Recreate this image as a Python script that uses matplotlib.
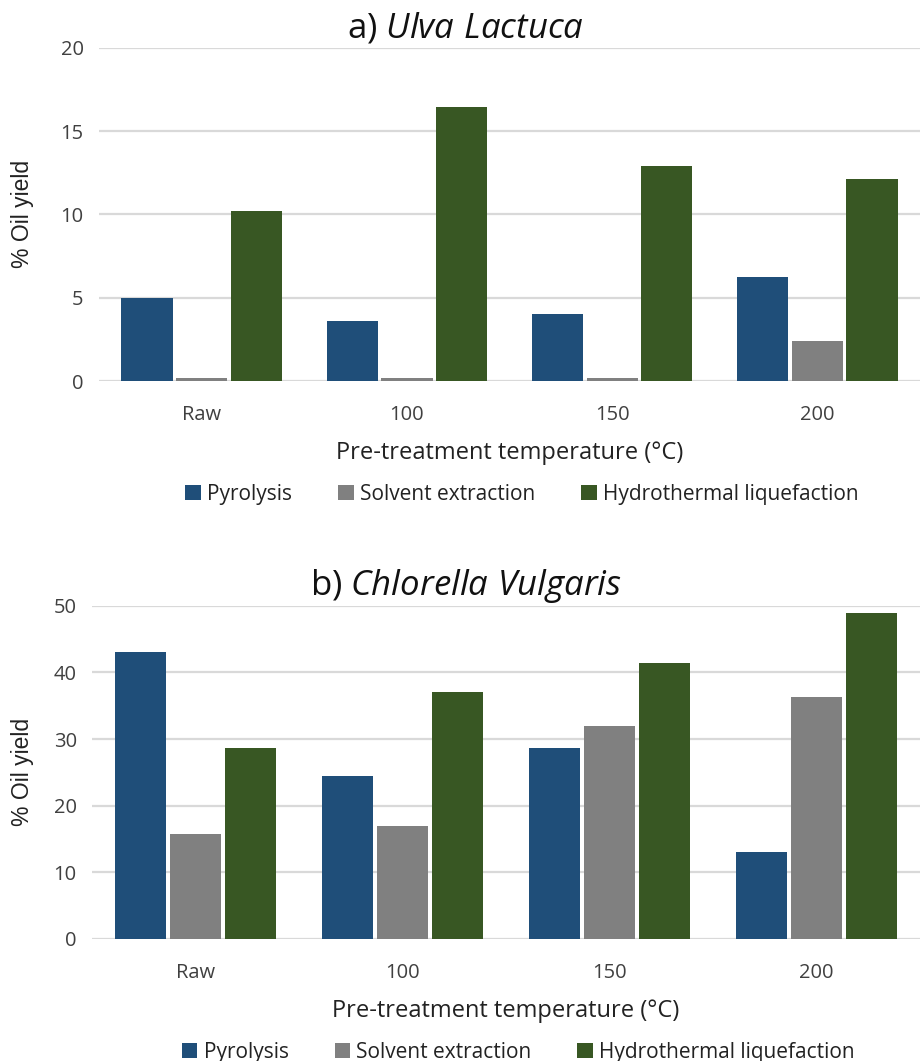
import matplotlib

matplotlib.use("Agg")
import matplotlib.pyplot as plt
import numpy as np

# pre-treatment groups and oil yields (%) per method
categories = ["Raw", "100", "150", "200"]
methods = ["Pyrolysis", "Solvent extraction", "Hydrothermal liquefaction"]

ulva_pyrolysis = [5.0, 3.6, 4.0, 6.25]
ulva_solvent = [0.2, 0.2, 0.2, 2.4]
ulva_htl = [10.2, 16.45, 12.9, 12.1]

chlorella_pyrolysis = [43.0, 24.4, 28.6, 13.0]
chlorella_solvent = [15.7, 16.9, 31.9, 36.3]
chlorella_htl = [28.7, 37.0, 41.4, 48.9]

COLORS = ["#1F4E79", "#808080", "#385723"]
GRID = "#D9D9D9"
BODY = "Open Sans"

plt.rcParams["font.family"] = [BODY, "DejaVu Sans"]
plt.rcParams["mathtext.fontset"] = "custom"
plt.rcParams["mathtext.rm"] = BODY
plt.rcParams["mathtext.it"] = BODY + ":italic"


def draw_panel(fig, rect, series, ymax, step, title):
    ax = fig.add_axes(rect)
    x = np.arange(len(categories))
    for i, (vals, name, col) in enumerate(zip(series, methods, COLORS)):
        ax.bar(x + (i - 1) * 0.266, vals, width=0.25, color=col,
               label=name, zorder=3)
    ax.set_xlim(-0.5, len(categories) - 0.5)
    ax.set_ylim(0, ymax)
    ax.set_yticks(np.arange(0, ymax + 1, step))
    ax.set_xticks(x)
    ax.set_xticklabels(categories)
    ax.tick_params(axis="both", length=0, labelsize=14.5, colors="#404040")
    ax.tick_params(axis="x", pad=17)
    ax.tick_params(axis="y", pad=11)
    ax.grid(axis="y", color=GRID, lw=1.6, zorder=0)
    for s in ax.spines.values():
        s.set_visible(False)
    ax.set_ylabel("% Oil yield", family="Liberation Sans", fontsize=16.5,
                  color="#222222", va="center")
    ax.yaxis.set_label_coords(22 / 922, rect[1] + rect[3] / 2,
                              transform=fig.transFigure)
    ax.text(0.5, -0.215, "Pre-treatment temperature (°C)", transform=ax.transAxes,
            ha="center", va="center", fontsize=17, color="#222222")
    ax.legend(loc="center", bbox_to_anchor=(0.515, -0.34), ncol=3, frameon=False,
              fontsize=15, handlelength=0.75, handleheight=0.75,
              handletextpad=0.3, columnspacing=2.2, labelcolor="#222222")
    fig.text(0.505, rect[1] + rect[3] + 0.019, title, ha="center", va="center",
             fontsize=25, color="#111111")
    return ax


fig = plt.figure(figsize=(9.22, 10.61), dpi=100)
draw_panel(fig, [0.1074, 0.6409, 0.8905, 0.3141],
           [ulva_pyrolysis, ulva_solvent, ulva_htl], 20, 5,
           r"a) $\mathit{Ulva\ Lactuca}$")
draw_panel(fig, [0.0998, 0.115, 0.898, 0.3141],
           [chlorella_pyrolysis, chlorella_solvent, chlorella_htl], 50, 10,
           r"b) $\mathit{Chlorella\ Vulgaris}$")
fig.savefig("out.png", dpi=100)
